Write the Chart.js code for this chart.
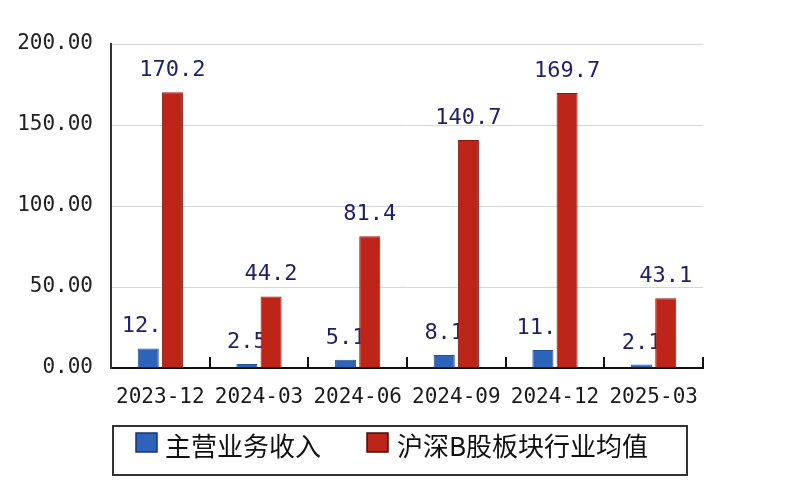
<!DOCTYPE html>
<html>
<head>
<meta charset="utf-8">
<script src="https://cdn.jsdelivr.net/npm/chart.js@4.4.1/dist/chart.umd.min.js"></script>
<style>
html,body{margin:0;padding:0;background:#fff;}
#wrap{width:800px;height:500px;}
</style>
</head>
<body>
<div id="wrap"><canvas id="c" width="800" height="500"></canvas></div>
<script>
const categories = ['2023-12','2024-03','2024-06','2024-09','2024-12','2025-03'];
const revenue = [12.1, 2.5, 5.1, 8.1, 11.1, 2.1];
const industryAvg = [170.2, 44.2, 81.4, 140.7, 169.7, 43.1];
const seriesNames = ['主营业务收入', '沪深B股板块行业均值'];
const yTicks = [0, 50, 100, 150, 200];

const monoFont = '"DejaVu Sans Mono", monospace';
const cjkFont = '"Noto Sans CJK SC", sans-serif';

function drawLabels(chart, dsIndex) {
  const ctx = chart.ctx;
  const meta = chart.getDatasetMeta(dsIndex);
  const vals = chart.data.datasets[dsIndex].data;
  ctx.save();
  ctx.font = '22px ' + monoFont;
  ctx.fillStyle = '#1f1f6b';
  ctx.textAlign = 'center';
  ctx.textBaseline = 'alphabetic';
  meta.data.forEach((bar, i) => {
    ctx.fillText(vals[i].toFixed(1), bar.x, bar.y - 16);
  });
  ctx.restore();
}

const customPlugin = {
  id: 'custom',
  beforeDatasetsDraw(chart) {
    // revenue labels are drawn under the bars so the red bars cover them
    drawLabels(chart, 0);
  },
  afterDatasetsDraw(chart) {
    drawLabels(chart, 1);
  },
  afterDraw(chart) {
    const ctx = chart.ctx;
    const xs = chart.scales.x;
    const area = chart.chartArea;
    const half = (xs.getPixelForValue(1) - xs.getPixelForValue(0)) / 2;
    ctx.save();
    ctx.strokeStyle = '#111';
    ctx.lineWidth = 2;
    for (let i = 0; i < categories.length; i++) {
      const x = Math.round(xs.getPixelForValue(i) + half);
      ctx.beginPath();
      ctx.moveTo(x, area.bottom);
      ctx.lineTo(x, area.bottom - 11);
      ctx.stroke();
    }
    // legend
    ctx.lineWidth = 2;
    ctx.strokeStyle = '#333';
    ctx.strokeRect(113, 426, 574, 49);
    const ds = chart.data.datasets;
    const items = [
      {sx: 136, tx: 165},
      {sx: 367, tx: 397}
    ];
    ctx.font = '26px ' + cjkFont;
    ctx.textBaseline = 'middle';
    ctx.textAlign = 'left';
    items.forEach((it, i) => {
      ctx.fillStyle = ds[i].backgroundColor;
      ctx.fillRect(it.sx, 433, 21, 19);
      ctx.lineWidth = 1.5;
      ctx.strokeStyle = i === 0 ? '#1a3470' : '#4a0c08';
      ctx.strokeRect(it.sx, 433, 21, 19);
      ctx.fillStyle = '#111';
      ctx.fillText(ds[i].label, it.tx, 446);
    });
    ctx.restore();
  }
};

new Chart(document.getElementById('c'), {
  type: 'bar',
  data: {
    labels: categories,
    datasets: [
      {
        label: seriesNames[0],
        data: revenue,
        backgroundColor: '#2e63bb',
        borderColor: '#234f9a',
        borderWidth: 1,
        categoryPercentage: 0.49,
        barPercentage: 0.87
      },
      {
        label: seriesNames[1],
        data: industryAvg,
        backgroundColor: '#bd2519',
        borderColor: '#8e1b12',
        borderWidth: 1,
        categoryPercentage: 0.49,
        barPercentage: 0.87
      }
    ]
  },
  options: {
    responsive: false,
    animation: false,
    devicePixelRatio: 1,
    layout: { padding: { top: 44, right: 97, bottom: 0, left: 0 } },
    plugins: {
      legend: { display: false },
      tooltip: { enabled: false }
    },
    scales: {
      x: {
        afterFit(scale) { scale.height = 132; },
        grid: { display: false, drawTicks: false },
        border: { display: true, color: '#111', width: 2 },
        ticks: {
          padding: 17,
          color: '#1a1a1a',
          font: { family: monoFont, size: 21 },
          maxRotation: 0,
          autoSkip: false
        }
      },
      y: {
        min: 0,
        max: 200,
        afterFit(scale) { scale.width = 111; },
        afterBuildTicks(scale) { scale.ticks = yTicks.map(v => ({ value: v })); },
        grid: {
          drawTicks: false,
          color: (c) => (c.tick && c.tick.value === 0) ? 'rgba(0,0,0,0)' : '#d6d6d6',
          lineWidth: 1
        },
        border: { display: true, color: '#333', width: 2 },
        ticks: {
          padding: 18,
          color: '#222',
          font: { family: monoFont, size: 21 },
          callback: (v) => Number(v).toFixed(2)
        }
      }
    }
  },
  plugins: [customPlugin]
});
</script>
</body>
</html>
